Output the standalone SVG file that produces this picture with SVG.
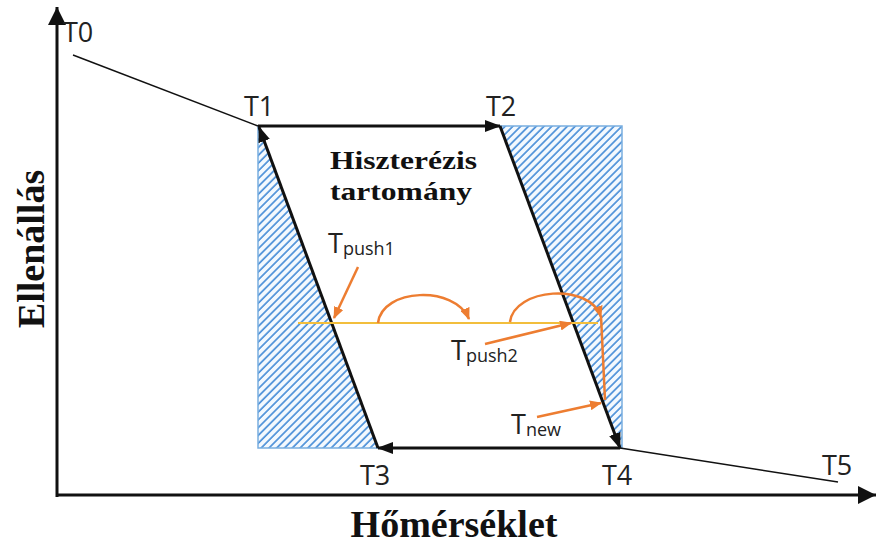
<svg xmlns="http://www.w3.org/2000/svg" width="876" height="549" viewBox="0 0 876 549">
<style>
.lbl{font-family:"Open Sans","Liberation Sans",sans-serif;font-size:27px;fill:#222}
.sub{font-family:"Open Sans","Liberation Sans",sans-serif;font-size:18px;fill:#222}
.ttl{font-family:"Liberation Serif","Times New Roman",serif;font-weight:bold;fill:#111}
.blk{stroke:#111;stroke-width:3;fill:none}
.thin{stroke:#111;stroke-width:1.5;fill:none}
.org{stroke:#ED7D31;stroke-width:2.5;fill:none}
.hatch{fill:url(#hp);stroke:#7aaee0;stroke-width:1.5}
</style>
<defs>
<pattern id="hp" patternUnits="userSpaceOnUse" width="5.5" height="5.5" patternTransform="rotate(45)">
<rect width="5.5" height="5.5" fill="#f4f9fe"/>
<line x1="1" y1="0" x2="1" y2="5.5" stroke="#4a8fd8" stroke-width="1.7"/>
</pattern>
<marker id="ab" markerUnits="userSpaceOnUse" markerWidth="16" markerHeight="12" refX="15" refY="6" orient="auto">
<path d="M0,0 L16,6 L0,12 z" fill="#111"/>
</marker>
<marker id="ax" markerUnits="userSpaceOnUse" markerWidth="18" markerHeight="18" refX="18" refY="9" orient="auto">
<path d="M0,0 L18,9 L0,18 z" fill="#111"/>
</marker>
<marker id="ao" markerUnits="userSpaceOnUse" markerWidth="12" markerHeight="10" refX="11" refY="5" orient="auto">
<path d="M0,0 L12,5 L0,10 z" fill="#ED7D31"/>
</marker>
</defs>
<g id="regions">
<polygon class="hatch" points="258,126 378,448 258,448"/>
<polygon class="hatch" points="500,126 622,126 622,448 620,448"/>
</g>
<g id="connectors">
<line class="blk" x1="57" y1="497" x2="57" y2="7" marker-end="url(#ax)"/>
<line class="blk" x1="56" y1="495" x2="876" y2="495" marker-end="url(#ax)"/>
<line class="thin" x1="73" y1="55" x2="258" y2="126"/>
<line class="blk" x1="258" y1="126" x2="500" y2="126" marker-end="url(#ab)"/>
<line class="blk" x1="500" y1="126" x2="620" y2="448" marker-end="url(#ab)"/>
<line class="blk" x1="620" y1="448" x2="378" y2="448" marker-end="url(#ab)"/>
<line class="blk" x1="378" y1="448" x2="259" y2="127" marker-end="url(#ab)"/>
<line class="thin" x1="620" y1="448" x2="838" y2="482"/>
<line x1="298" y1="323" x2="598" y2="323" stroke="#F2BE3C" stroke-width="2"/>
<line class="org" x1="358" y1="267" x2="334" y2="318" marker-end="url(#ao)"/>
<path class="org" d="M378,323 C382,288 455,285 469,319" marker-end="url(#ao)"/>
<path class="org" d="M510,322 C514,288 590,282 601,317" marker-end="url(#ao)"/>
<line class="org" x1="601" y1="316" x2="605" y2="400"/>
<line class="org" x1="485" y1="344" x2="571" y2="323" marker-end="url(#ao)"/>
<line class="org" x1="537" y1="417" x2="601" y2="403" marker-end="url(#ao)"/>
</g>
<g id="T0"><text class="lbl" x="63" y="42">T0</text></g>
<g id="T1"><text class="lbl" x="244" y="116">T1</text></g>
<g id="T2"><text class="lbl" x="486" y="116">T2</text></g>
<g id="T3"><text class="lbl" x="360" y="485">T3</text></g>
<g id="T4"><text class="lbl" x="602" y="485">T4</text></g>
<g id="T5"><text class="lbl" x="822" y="475">T5</text></g>
<g id="hyst"><text class="ttl" font-size="26" x="330" y="169" textLength="147" lengthAdjust="spacingAndGlyphs">Hiszterézis</text>
<text class="ttl" font-size="26" x="330" y="200" textLength="142" lengthAdjust="spacingAndGlyphs">tartomány</text></g>
<g id="Tpush1"><text class="lbl" x="328" y="253">T<tspan class="sub" dy="2">push1</tspan></text></g>
<g id="Tpush2"><text class="lbl" x="451" y="360">T<tspan class="sub" dy="2">push2</tspan></text></g>
<g id="Tnew"><text class="lbl" x="511" y="434">T<tspan class="sub" dy="2">new</tspan></text></g>
<g id="ylabel"><text class="ttl" font-size="38" transform="translate(44,249) rotate(-90)" text-anchor="middle">Ellenállás</text></g>
<g id="xlabel"><text class="ttl" font-size="38" x="454" y="537" text-anchor="middle">Hőmérséklet</text></g>
</svg>
